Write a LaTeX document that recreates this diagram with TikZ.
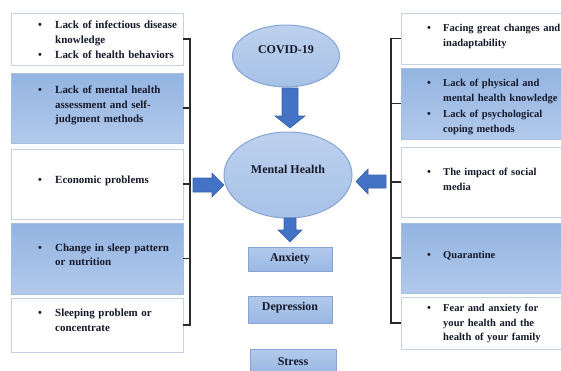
\documentclass[tikz,border=0pt]{standalone}
\usepackage{fontspec}
\setmainfont{Liberation Serif}
\usetikzlibrary{shapes.geometric}
\definecolor{ink}{HTML}{16192A}
\definecolor{wborder}{HTML}{C3D2E5}
\definecolor{bboxtop}{HTML}{93B4E1}
\definecolor{bboxbot}{HTML}{B2C9EB}
\definecolor{bborder}{HTML}{A6BEE0}
\definecolor{elltop}{HTML}{BDD1EE}
\definecolor{ellbot}{HTML}{A7C1E6}
\definecolor{ellborder}{HTML}{86A5D4}
\definecolor{arrowblue}{HTML}{4472C4}
\definecolor{arrowedge}{HTML}{3B65B0}
\definecolor{brk}{HTML}{2A2A2A}
\begin{document}
\begin{tikzpicture}[x=1bp,y=-1bp,
  wbox/.style={draw=wborder, line width=1bp, fill=white, inner sep=0, outer sep=0},
  bbox/.style={draw=bborder, line width=1bp, top color=bboxtop, bottom color=bboxbot, inner sep=0, outer sep=0},
  ell/.style={ellipse, draw=ellborder, line width=1bp, top color=elltop, bottom color=ellbot, inner sep=0, outer sep=0},
  sbox/.style={draw=ellborder, line width=0.8bp, top color=bboxbot, bottom color=bboxtop!80!bboxbot, inner sep=0, outer sep=0},
  txt/.style={font=\bfseries\fontsize{11}{14.6}\selectfont, text=ink, inner sep=0, anchor=base west, text width=200bp, align=left},
  rtxt/.style={txt, font=\bfseries\fontsize{10.6}{14.8}\selectfont},
  bul/.style={font=\bfseries\fontsize{11}{14.6}\selectfont, text=ink, inner sep=0, anchor=base},
  ctxt/.style={font=\bfseries\fontsize{12}{14}\selectfont, text=ink, inner sep=0},
  brkline/.style={draw=brk, line width=1.3bp},
  blockarrow/.style={fill=arrowblue, draw=arrowedge, line width=0.6bp, line join=miter}
]
\useasboundingbox (0,0) rectangle (561,370);
\clip (0,0) rectangle (561,370);
\fill[white] (0,0) rectangle (561,370);

% ---------- left boxes ----------
\node[wbox, minimum width=171bp, minimum height=52bp] (L1) at (97.5,39) {};
\node[bbox, minimum width=171bp, minimum height=70bp] (L2) at (97.5,108) {};
\node[wbox, minimum width=171bp, minimum height=70bp] (L3) at (97.5,184) {};
\node[bbox, minimum width=171bp, minimum height=71bp] (L4) at (97.5,258.5) {};
\node[wbox, minimum width=171bp, minimum height=54bp] (L5) at (97.5,325) {};

\node[bul] (lb1) at (40,28.5) {\textbullet};
\node[txt] (lt1) at (55,28.5) {Lack of infectious disease\\knowledge};
\node[bul] (lb2) at (40,58.5) {\textbullet};
\node[txt] (lt2) at (55,58.5) {Lack of health behaviors};
\node[bul] (lb3) at (40,93.5) {\textbullet};
\node[txt] (lt3) at (55,93.5) {Lack of mental health\\assessment and self-\\judgment methods};
\node[bul] (lb4) at (40,183.5) {\textbullet};
\node[txt] (lt4) at (55,183.5) {Economic problems};
\node[bul] (lb5) at (40,251) {\textbullet};
\node[txt] (lt5) at (55,251) {Change in sleep pattern\\or nutrition};
\node[bul] (lb6) at (40,316.5) {\textbullet};
\node[txt] (lt6) at (55,316.5) {Sleeping problem or\\concentrate};

% ---------- right boxes ----------
\node[wbox, minimum width=174bp, minimum height=51bp] (R1) at (488,38.5) {};
\node[bbox, minimum width=174bp, minimum height=71bp] (R2) at (488,103.5) {};
\node[wbox, minimum width=174bp, minimum height=70bp] (R3) at (488,182) {};
\node[bbox, minimum width=174bp, minimum height=70bp] (R4) at (488,258) {};
\node[wbox, minimum width=174bp, minimum height=52bp] (R5) at (488,323) {};

\node[bul] (rb1) at (429,31.5) {\textbullet};
\node[rtxt] (rt1) at (443,31.5) {Facing great changes and\\inadaptability};
\node[bul] (rb2) at (429,86.5) {\textbullet};
\node[rtxt] (rt2) at (443,86.5) {Lack of physical and\\mental health knowledge};
\node[bul] (rb3) at (429,117.5) {\textbullet};
\node[rtxt] (rt3) at (443,117.5) {Lack of psychological\\coping methods};
\node[bul] (rb4) at (429,175.5) {\textbullet};
\node[rtxt] (rt4) at (443,175.5) {The impact of social\\media};
\node[bul] (rb5) at (429,258.5) {\textbullet};
\node[rtxt] (rt5) at (443,258.5) {Quarantine};
\node[bul] (rb6) at (429,311.5) {\textbullet};
\node[rtxt] (rt6) at (443,311.5) {Fear and anxiety for\\your health and the\\health of your family};

% ---------- brackets ----------
\coordinate (lbx) at (190,0);
\coordinate (rbx) at (391,0);
\draw[brkline] (L1.east) -- (L1.east -| lbx) -- (L5.east -| lbx) -- (L5.east);
\draw[brkline] (L2.east) -- (L2.east -| lbx);
\draw[brkline] (L3.east) -- (L3.east -| lbx);
\draw[brkline] (L4.east) -- (L4.east -| lbx);
\draw[brkline] (R1.west) -- (R1.west -| rbx) -- (R5.west -| rbx) -- (R5.west);
\draw[brkline] (R2.west) -- (R2.west -| rbx);
\draw[brkline] (R3.west) -- (R3.west -| rbx);
\draw[brkline] (R4.west) -- (R4.west -| rbx);

% ---------- centre ----------
\node[ell, minimum width=107bp, minimum height=62bp] (cov) at (286,56) {};
\node[ctxt] (covt) at (286,50) {COVID-19};
\node[ell, minimum width=128bp, minimum height=86bp] (mh) at (288,175) {};
\node[ctxt] (mht) at (288,169) {Mental Health};

\node[sbox, minimum width=84bp, minimum height=24bp] (anx) at (290,259) {};
\node[ctxt] (anxt) at (290,259) {Anxiety};
\node[sbox, minimum width=84bp, minimum height=27bp] (dep) at (290,309.5) {};
\node[ctxt] (dept) at (290,307.5) {Depression};
\node[sbox, minimum width=86bp, minimum height=25bp] (str) at (293,361.5) {};
\node[ctxt] (strt) at (293,362) {Stress};

% ---------- block arrows ----------
\draw[blockarrow] (282,88) -- (298,88) -- (298,116) -- (305,116) -- (290,128) -- (275,116) -- (282,116) -- cycle;
\draw[blockarrow] (284,218) -- (296,218) -- (296,230) -- (302,230) -- (290,242) -- (278,230) -- (284,230) -- cycle;
\draw[blockarrow] (193,178) -- (212,178) -- (212,173) -- (224,185) -- (212,197) -- (212,192) -- (193,192) -- cycle;
\draw[blockarrow] (386,175) -- (368,175) -- (368,169) -- (356,181.5) -- (368,194) -- (368,188) -- (386,188) -- cycle;
\end{tikzpicture}
\end{document}
